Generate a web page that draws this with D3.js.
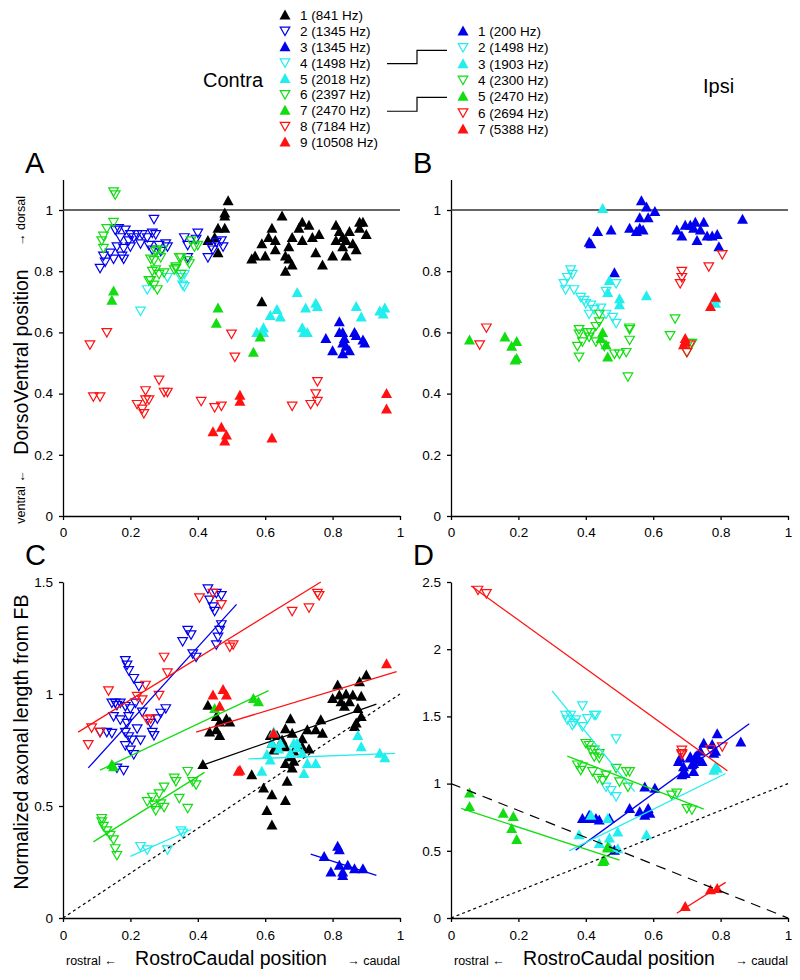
<!DOCTYPE html>
<html><head><meta charset="utf-8">
<script src="https://cdn.jsdelivr.net/npm/d3@7"></script>
<style>body{margin:0;background:#fff}text{font-family:"Liberation Sans",Arial,Helvetica,sans-serif}</style>
</head><body><svg id="c" width="800" height="980"></svg>
<script>
// ---------- legend ----------
const contraLabels = ["1 (841 Hz)","2 (1345 Hz)","3 (1345 Hz)","4 (1498 Hz)","5 (2018 Hz)","6 (2397 Hz)","7 (2470 Hz)","8 (7184 Hz)","9 (10508 Hz)"];
const ipsiLabels = ["1 (200 Hz)","2 (1498 Hz)","3 (1903 Hz)","4 (2300 Hz)","5 (2470 Hz)","6 (2694 Hz)","7 (5388 Hz)"];
const contraColor = ["#000000","#0000ee","#0000ee","#22eeee","#22eeee","#11dd11","#11dd11","#ff1111","#ff1111"];
const contraFilled = [true,false,true,false,true,false,true,false,true];
const ipsiColor = ["#0000ee","#22eeee","#22eeee","#11dd11","#11dd11","#ff1111","#ff1111"];
const ipsiFilled = [true,false,true,false,true,false,true];
const xTicks = [0,0.2,0.4,0.6,0.8,1];
const dvTicks = [0,0.2,0.4,0.6,0.8,1];
const lenTicksC = [0,0.5,1,1.5];
const lenTicksD = [0,0.5,1,1.5,2,2.5];

// ---------- A: contra dorso-ventral ----------
const dvContra1 = [[0.49,1.03],[0.48,0.99],[0.48,0.98],[0.46,0.94],[0.48,0.94],[0.43,0.90],[0.46,0.86],[0.45,0.91],[0.59,0.70],[0.65,0.98],[0.71,0.96],[0.73,0.95],[0.76,0.92],[0.62,0.94],[0.61,0.91],[0.63,0.90],[0.59,0.89],[0.57,0.85],[0.60,0.85],[0.63,0.87],[0.66,0.85],[0.67,0.88],[0.68,0.91],[0.70,0.94],[0.71,0.90],[0.74,0.91],[0.67,0.84],[0.68,0.82],[0.66,0.80],[0.75,0.86],[0.77,0.82],[0.81,0.95],[0.82,0.93],[0.80,0.85],[0.83,0.88],[0.84,0.90],[0.85,0.93],[0.88,0.96],[0.88,0.94],[0.90,0.92],[0.87,0.87],[0.84,0.85],[0.81,0.90],[0.86,0.89],[0.89,0.96],[0.83,0.91],[0.56,0.84]];
const dvContra2 = [[0.27,0.97],[0.11,0.81],[0.125,0.83],[0.12,0.85],[0.15,0.84],[0.14,0.86],[0.16,0.88],[0.17,0.91],[0.155,0.935],[0.165,0.94],[0.185,0.935],[0.20,0.92],[0.21,0.91],[0.195,0.90],[0.18,0.875],[0.175,0.85],[0.18,0.84],[0.20,0.88],[0.22,0.92],[0.235,0.92],[0.23,0.89],[0.25,0.91],[0.265,0.925],[0.275,0.92],[0.255,0.885],[0.265,0.87],[0.285,0.885],[0.305,0.89],[0.31,0.88],[0.29,0.865],[0.36,0.91],[0.37,0.885],[0.40,0.925],[0.395,0.905],[0.37,0.845],[0.43,0.845],[0.44,0.88],[0.455,0.895],[0.47,0.90],[0.475,0.88],[0.445,0.87]];
const dvContra3 = [[0.82,0.635],[0.83,0.60],[0.87,0.59],[0.78,0.58],[0.80,0.54],[0.82,0.60],[0.83,0.565],[0.83,0.53],[0.84,0.555],[0.85,0.54],[0.865,0.60],[0.89,0.575],[0.895,0.565],[0.835,0.58]];
const dvContra4 = [[0.23,0.67],[0.25,0.74],[0.31,0.78],[0.35,0.78],[0.355,0.755],[0.36,0.75],[0.36,0.79]];
const dvContra5 = [[0.575,0.60],[0.595,0.615],[0.615,0.655],[0.635,0.675],[0.645,0.65],[0.695,0.73],[0.72,0.68],[0.75,0.695],[0.755,0.685],[0.71,0.615],[0.725,0.60],[0.87,0.685],[0.885,0.65],[0.94,0.67],[0.955,0.68],[0.95,0.66],[0.595,0.60],[0.715,0.60]];
const dvContra6 = [[0.15,1.06],[0.155,1.05],[0.15,0.96],[0.13,0.94],[0.12,0.915],[0.115,0.90],[0.12,0.875],[0.26,0.77],[0.27,0.755],[0.28,0.74],[0.265,0.80],[0.27,0.835],[0.28,0.87],[0.295,0.87],[0.29,0.845],[0.30,0.795],[0.335,0.815],[0.33,0.805],[0.35,0.845],[0.37,0.835],[0.375,0.825],[0.38,0.90],[0.40,0.885],[0.35,0.79],[0.275,0.865],[0.26,0.84],[0.275,0.805],[0.285,0.79],[0.255,0.77],[0.345,0.845],[0.39,0.88],[0.335,0.81]];
const dvContra7 = [[0.15,0.735],[0.145,0.705],[0.46,0.68],[0.455,0.63],[0.585,0.585],[0.565,0.535]];
const dvContra8 = [[0.13,0.60],[0.50,0.595],[0.08,0.56],[0.09,0.39],[0.11,0.39],[0.22,0.365],[0.235,0.35],[0.245,0.38],[0.255,0.38],[0.24,0.335],[0.245,0.41],[0.285,0.445],[0.30,0.405],[0.31,0.405],[0.41,0.375],[0.45,0.355],[0.47,0.36],[0.51,0.52],[0.68,0.36],[0.735,0.365],[0.755,0.44],[0.75,0.40],[0.755,0.375]];
const dvContra9 = [[0.445,0.275],[0.47,0.29],[0.485,0.265],[0.48,0.245],[0.525,0.395],[0.525,0.375],[0.62,0.255],[0.96,0.40],[0.96,0.35]];

// ---------- B: ipsi dorso-ventral ----------
const dvIpsi1 = [[0.565,1.03],[0.58,1.01],[0.605,0.995],[0.585,0.975],[0.56,0.975],[0.56,0.94],[0.57,0.935],[0.55,0.93],[0.53,0.94],[0.475,0.935],[0.435,0.93],[0.41,0.895],[0.415,0.89],[0.485,0.795],[0.67,0.935],[0.695,0.95],[0.725,0.96],[0.75,0.96],[0.72,0.94],[0.74,0.935],[0.685,0.915],[0.73,0.90],[0.76,0.915],[0.775,0.915],[0.79,0.92],[0.795,0.88],[0.865,0.97],[0.71,0.95]];
const dvIpsi2 = [[0.355,0.805],[0.345,0.78],[0.335,0.76],[0.34,0.74],[0.365,0.74],[0.385,0.715],[0.395,0.705],[0.415,0.69],[0.425,0.675],[0.445,0.68],[0.46,0.66],[0.48,0.65],[0.49,0.63],[0.49,0.76],[0.46,0.735],[0.36,0.79],[0.40,0.695],[0.41,0.66]];
const dvIpsi3 = [[0.45,1.005],[0.47,0.77],[0.465,0.73],[0.50,0.71],[0.50,0.69],[0.58,0.72],[0.785,0.695],[0.785,0.71]];
const dvIpsi4 = [[0.44,0.66],[0.44,0.635],[0.43,0.62],[0.415,0.60],[0.38,0.61],[0.405,0.60],[0.53,0.615],[0.665,0.645],[0.65,0.59],[0.375,0.555],[0.38,0.52],[0.39,0.57],[0.41,0.585],[0.43,0.57],[0.455,0.555],[0.485,0.53],[0.50,0.53],[0.52,0.535],[0.53,0.575],[0.525,0.455],[0.70,0.535],[0.715,0.565],[0.705,0.565],[0.38,0.595],[0.53,0.61]];
const dvIpsi5 = [[0.055,0.575],[0.16,0.585],[0.18,0.555],[0.195,0.57],[0.19,0.51],[0.195,0.515],[0.45,0.60],[0.46,0.56],[0.465,0.52],[0.445,0.58]];
const dvIpsi6 = [[0.105,0.615],[0.685,0.80],[0.685,0.78],[0.68,0.76],[0.765,0.815],[0.805,0.855],[0.085,0.56],[0.71,0.56],[0.70,0.535]];
const dvIpsi7 = [[0.785,0.715],[0.77,0.685],[0.695,0.58],[0.69,0.56],[0.695,0.57]];

// ---------- C: contra axonal length ----------
const lenContra1 = [[0.43,0.95],[0.455,0.90],[0.465,0.875],[0.485,0.89],[0.495,0.875],[0.435,0.83],[0.455,0.84],[0.465,0.815],[0.675,0.89],[0.66,0.845],[0.615,0.815],[0.635,0.815],[0.65,0.795],[0.68,0.825],[0.71,0.80],[0.725,0.84],[0.75,0.84],[0.765,0.885],[0.77,0.825],[0.815,1.04],[0.82,0.995],[0.84,1.0],[0.80,0.98],[0.86,0.995],[0.885,0.99],[0.90,1.085],[0.88,1.055],[0.85,0.965],[0.875,0.935],[0.87,0.87],[0.885,0.90],[0.835,0.945],[0.865,0.855],[0.825,0.965],[0.415,0.685],[0.56,0.64],[0.595,0.58],[0.62,0.55],[0.605,0.48],[0.62,0.415],[0.66,0.525],[0.665,0.61],[0.66,0.69],[0.68,0.67],[0.685,0.745],[0.675,0.72],[0.71,0.765],[0.73,0.755],[0.625,0.75],[0.62,0.78],[0.685,0.70],[0.66,0.765]];
const lenContra2 = [[0.43,1.47],[0.455,1.45],[0.47,1.44],[0.435,1.42],[0.445,1.39],[0.45,1.37],[0.47,1.31],[0.465,1.285],[0.46,1.255],[0.455,1.22],[0.37,1.285],[0.38,1.265],[0.355,1.235],[0.385,1.18],[0.395,1.165],[0.185,1.15],[0.19,1.13],[0.195,1.105],[0.21,1.07],[0.225,1.035],[0.155,0.96],[0.17,0.96],[0.185,0.945],[0.20,0.935],[0.215,0.96],[0.15,0.90],[0.17,0.885],[0.19,0.87],[0.195,0.90],[0.13,0.83],[0.145,0.825],[0.185,0.83],[0.195,0.81],[0.205,0.795],[0.185,0.77],[0.20,0.75],[0.21,0.73],[0.22,0.845],[0.23,0.795],[0.26,0.87],[0.28,0.89],[0.29,0.915],[0.305,0.935],[0.265,0.83],[0.27,0.815],[0.16,0.67],[0.18,0.66],[0.235,0.92],[0.11,0.83],[0.145,0.96],[0.16,0.95]];
const lenContra3 = [[0.775,0.275],[0.795,0.205],[0.815,0.32],[0.82,0.305],[0.82,0.235],[0.83,0.19],[0.83,0.205],[0.845,0.235],[0.865,0.22],[0.89,0.22]];
const lenContra4 = [[0.23,0.32],[0.25,0.305],[0.31,0.305],[0.35,0.39],[0.355,0.38]];
const lenContra5 = [[0.625,0.83],[0.62,0.78],[0.685,0.78],[0.695,0.76],[0.875,0.815],[0.885,0.765],[0.64,0.755],[0.59,0.655],[0.605,0.73],[0.615,0.705],[0.645,0.78],[0.71,0.735],[0.725,0.69],[0.715,0.645],[0.75,0.69],[0.94,0.735],[0.955,0.715],[0.695,0.78],[0.675,0.735]];
const lenContra6 = [[0.115,0.43],[0.12,0.41],[0.13,0.39],[0.14,0.37],[0.15,0.35],[0.155,0.31],[0.16,0.28],[0.25,0.52],[0.265,0.54],[0.27,0.505],[0.275,0.48],[0.29,0.51],[0.30,0.495],[0.30,0.585],[0.285,0.555],[0.33,0.625],[0.335,0.61],[0.345,0.535],[0.37,0.49],[0.37,0.655],[0.385,0.61],[0.395,0.595],[0.115,0.445]];
const lenContra7 = [[0.145,0.685],[0.15,0.675],[0.45,0.935],[0.565,0.98],[0.58,0.965]];
const lenContra8 = [[0.405,1.43],[0.445,1.45],[0.47,1.40],[0.68,1.37],[0.73,1.385],[0.755,1.45],[0.76,1.44],[0.495,1.21],[0.505,1.22],[0.30,1.165],[0.31,1.095],[0.245,1.04],[0.22,0.99],[0.235,0.975],[0.285,0.995],[0.25,0.885],[0.26,0.89],[0.135,1.015],[0.085,0.85],[0.11,0.83],[0.075,0.775]];
const lenContra9 = [[0.445,0.995],[0.475,1.02],[0.485,0.995],[0.465,0.945],[0.625,0.825],[0.96,1.135],[0.52,0.655],[0.525,0.66]];
// fitted lines (start, end) per contra series
const fitContra = [[[0.41,0.68],[0.93,0.955]],[[0.075,0.67],[0.515,1.40]],[[0.735,0.285],[0.93,0.19]],[[0.2,0.275],[0.38,0.395]],[[0.55,0.71],[0.985,0.735]],[[0.09,0.34],[0.42,0.65]],[[0.11,0.66],[0.61,1.015]],[[0.045,0.83],[0.765,1.50]],[[0.395,0.83],[0.99,1.10]]];

// ---------- D: ipsi axonal length ----------
const lenIpsi1 = [[0.79,1.37],[0.86,1.31],[0.75,1.30],[0.775,1.29],[0.785,1.24],[0.74,1.24],[0.725,1.20],[0.71,1.19],[0.735,1.175],[0.715,1.14],[0.69,1.125],[0.675,1.165],[0.745,1.165],[0.72,1.09],[0.695,1.075],[0.685,1.065],[0.575,0.975],[0.605,0.965],[0.53,0.815],[0.56,0.79],[0.575,0.765],[0.585,0.815],[0.59,0.78],[0.39,0.74],[0.41,0.74],[0.44,0.73],[0.47,0.74],[0.485,0.505],[0.73,1.21],[0.72,1.15],[0.68,1.19],[0.71,1.20],[0.78,1.225],[0.41,0.765],[0.43,0.74]];
const lenIpsi2 = [[0.34,1.51],[0.355,1.51],[0.345,1.475],[0.365,1.45],[0.39,1.58],[0.405,1.485],[0.425,1.51],[0.39,1.425],[0.49,1.335],[0.37,1.475],[0.43,1.51],[0.36,1.435],[0.475,0.95],[0.49,0.905],[0.46,0.975]];
const lenIpsi3 = [[0.38,0.62],[0.415,0.765],[0.465,0.74],[0.47,0.595],[0.495,0.64],[0.44,0.555],[0.47,0.53],[0.495,0.515],[0.58,0.62],[0.78,1.10],[0.785,1.125],[0.79,1.115]];
const lenIpsi4 = [[0.40,1.30],[0.415,1.25],[0.425,1.20],[0.44,1.19],[0.375,1.14],[0.385,1.10],[0.39,1.125],[0.42,1.09],[0.435,1.04],[0.45,1.025],[0.49,1.115],[0.52,1.09],[0.53,1.09],[0.50,1.015],[0.525,0.975],[0.655,0.915],[0.67,0.93],[0.70,0.815],[0.715,0.805],[0.46,1.065],[0.41,1.285],[0.425,1.25],[0.44,1.225]];
const lenIpsi5 = [[0.055,0.93],[0.055,0.83],[0.155,0.78],[0.185,0.755],[0.18,0.665],[0.195,0.585],[0.465,0.52],[0.45,0.42],[0.465,0.53],[0.455,0.43]];
const lenIpsi6 = [[0.08,2.44],[0.105,2.415],[0.685,1.25],[0.685,1.215],[0.77,1.255],[0.805,1.275],[0.685,1.225]];
const lenIpsi7 = [[0.695,0.085],[0.77,0.21],[0.79,0.22]];
const fitIpsi = [[[0.37,0.505],[0.885,1.445]],[[0.30,1.69],[0.545,0.94]],[[0.35,0.50],[0.815,1.075]],[[0.345,1.205],[0.75,0.81]],[[0.03,0.815],[0.50,0.43]],[[0.06,2.47],[0.82,1.095]],[[0.67,0.035],[0.815,0.265]]];
const identityLine = [[0,0],[1,1]];
const inverseLine = [[0,1],[1,0]];

// ---------- drawing ----------
const svg = d3.select("#c");
const FONT = '"Liberation Sans",Arial,Helvetica,sans-serif';
const UP = "M-5.5,4.5L5.5,4.5L0,-5.5Z";
const DOWN = "M-4.8,-3.8L4.8,-3.8L0,4.6Z";
function marker(sel, color, filled) {
  sel.attr("d", filled ? UP : DOWN)
     .attr("fill", filled ? color : "none")
     .attr("stroke", filled ? "none" : color)
     .attr("stroke-width", filled ? 0 : 1.2);
}

// legend
const leg = svg.append("g");
leg.append("text").attr("x",203).attr("y",87).attr("font-size",20).text("Contra");
leg.append("text").attr("x",703).attr("y",93).attr("font-size",20).text("Ipsi");
const ly = d3.scalePoint().domain(d3.range(contraLabels.length)).range([15,142]);
const ry = d3.scalePoint().domain(d3.range(ipsiLabels.length)).range([31,129]);
contraLabels.forEach((t,i)=>{
  leg.append("path").attr("transform",`translate(285,${ly(i)})`).call(marker, contraColor[i], contraFilled[i]);
  leg.append("text").attr("x",300).attr("y",ly(i)+5).attr("font-size",13.5).text(t);
});
ipsiLabels.forEach((t,i)=>{
  leg.append("path").attr("transform",`translate(463,${ry(i)})`).call(marker, ipsiColor[i], ipsiFilled[i]);
  leg.append("text").attr("x",478).attr("y",ry(i)+5).attr("font-size",13.5).text(t);
});
const conn = d3.line();
leg.append("path").attr("d",conn([[387,ly(3)+1],[417,ly(3)+1],[417,ry(1)+3],[447,ry(1)+3]])).attr("fill","none").attr("stroke","#000").attr("stroke-width",1.2);
leg.append("path").attr("d",conn([[387,ly(6)+1],[417,ly(6)+1],[417,ry(4)+1],[447,ry(4)+1]])).attr("fill","none").attr("stroke","#000").attr("stroke-width",1.2);

function panel(cfg) {
  const x = d3.scaleLinear().domain([0,1]).range([cfg.left, cfg.left+337]);
  const y = d3.scaleLinear().domain(cfg.yDomain).range(cfg.yRange);
  const g = svg.append("g");
  const xa = g.append("g").attr("transform",`translate(0,${cfg.yRange[0]})`)
    .call(d3.axisBottom(x).tickValues(xTicks).tickSize(4).tickSizeOuter(0).tickPadding(cfg.xPad).tickFormat(d=>String(d)));
  const ya = g.append("g").attr("transform",`translate(${cfg.left},0)`)
    .call(d3.axisLeft(y).tickValues(cfg.yTicks).tickSize(4).tickSizeOuter(0).tickPadding(6).tickFormat(d=>String(d)));
  [xa,ya].forEach(a=>{
    a.selectAll("text").attr("font-size",13.5).attr("font-family",FONT).attr("fill","#000");
    a.selectAll("path,line").attr("stroke","#000").attr("stroke-width",1.3);
  });
  g.append("text").attr("x",cfg.left-38).attr("y",cfg.letterY).attr("font-size",29).text(cfg.letter);
  const ln = d3.line().x(d=>x(d[0])).y(d=>y(d[1]));
  if (cfg.hline) g.append("path").attr("d", ln([[0,1],[1,1]])).attr("stroke","#333").attr("stroke-width",1.3);
  cfg.series.forEach((s,i)=>{
    g.append("g").selectAll("path").data(s).join("path")
      .attr("transform", d=>`translate(${x(d[0])},${y(d[1])})`)
      .call(marker, cfg.colors[i], cfg.filled[i]);
  });
  (cfg.refs||[]).forEach(r=>{
    g.append("path").attr("d", ln(r.pts)).attr("fill","none").attr("stroke","#000").attr("stroke-width",1.2).attr("stroke-dasharray", r.dash);
  });
  (cfg.fits||[]).forEach((f,i)=>{
    g.append("path").attr("d", ln(f)).attr("fill","none").attr("stroke",cfg.colors[i]).attr("stroke-width",1.3);
  });
}

const dvRangeA = [516, 516-306*1.1];
panel({left:63, yDomain:[0,1.1], yRange:dvRangeA, yTicks:dvTicks, xPad:7, letter:"A", letterY:173, hline:true,
  series:[dvContra1,dvContra2,dvContra3,dvContra4,dvContra5,dvContra6,dvContra7,dvContra8,dvContra9],
  colors:contraColor, filled:contraFilled});
panel({left:451, yDomain:[0,1.1], yRange:dvRangeA, yTicks:dvTicks, xPad:7, letter:"B", letterY:173, hline:true,
  series:[dvIpsi1,dvIpsi2,dvIpsi3,dvIpsi4,dvIpsi5,dvIpsi6,dvIpsi7],
  colors:ipsiColor, filled:ipsiFilled});
panel({left:63, yDomain:[0,1.5], yRange:[918,582], yTicks:lenTicksC, xPad:8, letter:"C", letterY:565,
  series:[lenContra1,lenContra2,lenContra3,lenContra4,lenContra5,lenContra6,lenContra7,lenContra8,lenContra9],
  colors:contraColor, filled:contraFilled, fits:fitContra,
  refs:[{pts:identityLine, dash:"3,3"}]});
panel({left:451, yDomain:[0,2.5], yRange:[918,582], yTicks:lenTicksD, xPad:8, letter:"D", letterY:565,
  series:[lenIpsi1,lenIpsi2,lenIpsi3,lenIpsi4,lenIpsi5,lenIpsi6,lenIpsi7],
  colors:ipsiColor, filled:ipsiFilled, fits:fitIpsi,
  refs:[{pts:identityLine, dash:"3,3"},{pts:inverseLine, dash:"10,7"}]});

// axis titles
function vtext(x, y, size, t) {
  svg.append("text").attr("transform",`translate(${x},${y}) rotate(-90)`).attr("text-anchor","middle").attr("font-size",size).text(t);
}
vtext(28, 362, 19.5, "DorsoVentral position");
vtext(25, 221, 12.5, "→ dorsal");
vtext(25, 497, 12.5, "ventral ←");
vtext(28, 742, 19.5, "Normalized axonal length from FB");
function xtitle(left) {
  svg.append("text").attr("x",left+168).attr("y",965).attr("text-anchor","middle").attr("font-size",19.5).text("RostroCaudal position");
  svg.append("text").attr("x",left+3).attr("y",965).attr("font-size",12.5).text("rostral ←");
  svg.append("text").attr("x",left+337).attr("y",965).attr("text-anchor","end").attr("font-size",12.5).text("→ caudal");
}
xtitle(63); xtitle(451);
</script></body></html>
